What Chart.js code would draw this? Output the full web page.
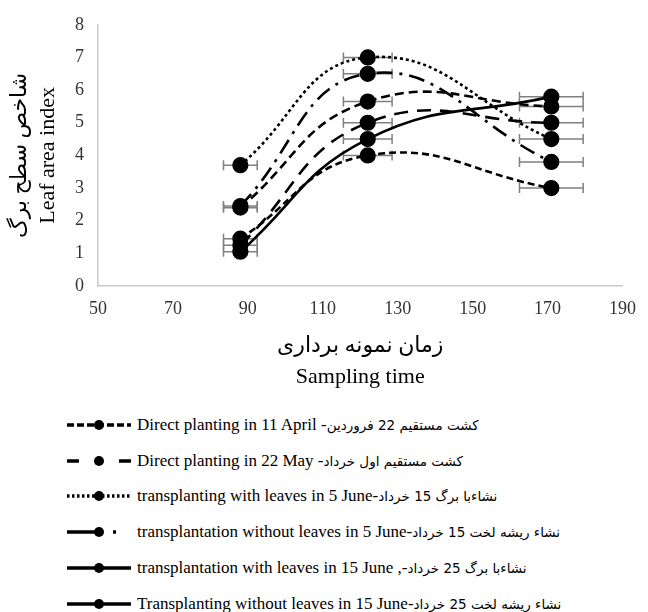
<!DOCTYPE html>
<html>
<head>
<meta charset="utf-8">
<script src="https://cdn.jsdelivr.net/npm/chart.js@4.4.0/dist/chart.umd.min.js"></script>
<style>
  html, body { margin: 0; padding: 0; background: #fff; }
  #wrap { position: relative; width: 648px; height: 612px; overflow: hidden; }
  #chartBox { position: absolute; left: 0; top: 0; width: 648px; height: 400px; }
  #legend { position: absolute; left: 67px; top: 407px; }
  .row { height: 35.8px; display: flex; align-items: center; white-space: nowrap;
         font-family: "Liberation Serif", serif; font-size: 17px; color: #000; }
  .row svg { margin-right: 6px; flex: none; }
  .fa { font-family: "DejaVu Sans", sans-serif; font-size: 13.5px; }
</style>
</head>
<body>
<div id="wrap">
  <div id="chartBox"><canvas id="lai" width="648" height="400"></canvas></div>
  <div id="legend"></div>
</div>
<script>
// sampling days and +/- errors
const days = [88, 122, 171];
const dayErr = [4.5, 6.5, 8.5];
const laiErr = [0.08, 0.15, 0.15];

// leaf area index per treatment
const directApril = [1.45, 4.0, 3.0];
const directMay = [1.25, 5.0, 5.0];
const leavesJune5 = [3.7, 7.0, 4.5];
const noLeavesJune5 = [2.45, 6.5, 3.8];
const leavesJune15 = [1.05, 4.5, 5.8];
const noLeavesJune15 = [2.4, 5.65, 5.5];

const labelsEn = [
  'Direct planting in 11 April -',
  'Direct planting in 22 May -',
  'transplanting with leaves in 5 June-',
  'transplantation without leaves in 5 June-',
  'transplantation with leaves in 15 June ,-',
  'Transplanting without leaves in 15 June-'
];
const labelsFa = [
  'کشت مستقیم 22 فروردین',
  'کشت مستقیم اول خرداد',
  'نشاءبا برگ 15 خرداد',
  'نشاء ریشه لخت 15 خرداد',
  'نشاءبا برگ 25 خرداد',
  'نشاء ریشه لخت 25 خرداد'
];

const xTicks = [50, 70, 90, 110, 130, 150, 170, 190];

const seriesValues = [directApril, directMay, leavesJune5, noLeavesJune5, leavesJune15, noLeavesJune15];
const plotDash = [[7, 4], [14, 9], [3, 3], [16, 7, 3, 7], [], [9, 5]];
const legendDash = ['7 3', '12 40', '2.5 2.5', '34 12 3 30', '', ''];

const datasets = seriesValues.map((vals, i) => ({
  label: labelsEn[i],
  data: days.map((d, j) => ({ x: d, y: vals[j] })),
  borderColor: '#000',
  backgroundColor: '#000',
  borderWidth: 2.6,
  borderDash: plotDash[i],
  pointRadius: 6.8,
  pointHoverRadius: 6.8,
  pointBackgroundColor: '#000',
  pointBorderColor: '#000',
  tension: 0.45,
  fill: false
}));

// gray error bars, drawn under the lines and markers
const errorBars = {
  id: 'errorBars',
  beforeDatasetsDraw(chart) {
    const ctx = chart.ctx;
    const xs = chart.scales.x, ys = chart.scales.y;
    ctx.save();
    ctx.strokeStyle = '#808080';
    ctx.lineWidth = 1.5;
    seriesValues.forEach(vals => {
      days.forEach((d, j) => {
        const px = xs.getPixelForValue(d);
        const py = ys.getPixelForValue(vals[j]);
        const x0 = xs.getPixelForValue(d - dayErr[j]);
        const x1 = xs.getPixelForValue(d + dayErr[j]);
        const y0 = ys.getPixelForValue(vals[j] - laiErr[j]);
        const y1 = ys.getPixelForValue(vals[j] + laiErr[j]);
        ctx.beginPath();
        ctx.moveTo(x0, py); ctx.lineTo(x1, py);
        ctx.moveTo(x0, py - 5); ctx.lineTo(x0, py + 5);
        ctx.moveTo(x1, py - 5); ctx.lineTo(x1, py + 5);
        ctx.moveTo(px, y0); ctx.lineTo(px, y1);
        ctx.moveTo(px - 3, y0); ctx.lineTo(px + 3, y0);
        ctx.moveTo(px - 3, y1); ctx.lineTo(px + 3, y1);
        ctx.stroke();
      });
    });
    ctx.restore();
  }
};

const tickFont = { family: '"Liberation Serif", serif', size: 18 };

new Chart(document.getElementById('lai').getContext('2d'), {
  type: 'line',
  data: { datasets: datasets },
  options: {
    responsive: false,
    animation: false,
    layout: { padding: { top: 22, right: 18, bottom: 0, left: 0 } },
    plugins: { legend: { display: false }, tooltip: { enabled: false } },
    scales: {
      x: {
        type: 'linear',
        min: 50,
        max: 190,
        afterBuildTicks: s => { s.ticks = xTicks.map(v => ({ value: v })); },
        afterFit: s => { s.height = 114; },
        ticks: { font: tickFont, color: '#333', padding: 12 },
        grid: { display: false, drawTicks: false },
        border: { color: '#c8c8c8', width: 1.5 },
        title: {
          display: true,
          text: ['زمان نمونه برداری', 'Sampling time'],
          font: { family: '"Liberation Serif", "DejaVu Sans", serif', size: 22, lineHeight: 1.41 },
          color: '#000',
          padding: { top: 0, bottom: 7 }
        }
      },
      y: {
        min: 0,
        max: 8,
        afterFit: s => { s.width = 98; },
        ticks: { stepSize: 1, font: tickFont, color: '#333', padding: 14 },
        grid: { display: false, drawTicks: false },
        border: { color: '#c8c8c8', width: 1.5 },
        title: {
          display: true,
          text: ['شاخص سطح برگ', 'Leaf area index'],
          font: { family: '"Liberation Serif", "DejaVu Sans", serif', size: 22, lineHeight: 1.27 },
          color: '#000',
          padding: { top: 6, bottom: 0 }
        }
      }
    }
  },
  plugins: [errorBars]
});

// legend rows: line sample with marker, then text
const legend = document.getElementById('legend');
labelsEn.forEach((txt, i) => {
  const row = document.createElement('div');
  row.className = 'row';
  const dash = legendDash[i] ? ` stroke-dasharray="${legendDash[i]}"` : '';
  row.innerHTML =
    `<svg width="64" height="14"><line x1="0" y1="7" x2="64" y2="7" stroke="#000" stroke-width="3.5"${dash}/>` +
    `<circle cx="32" cy="7" r="5" fill="#000"/></svg>` +
    `<span>${txt}</span><span class="fa">${labelsFa[i]}</span>`;
  legend.appendChild(row);
});
</script>
</body>
</html>
